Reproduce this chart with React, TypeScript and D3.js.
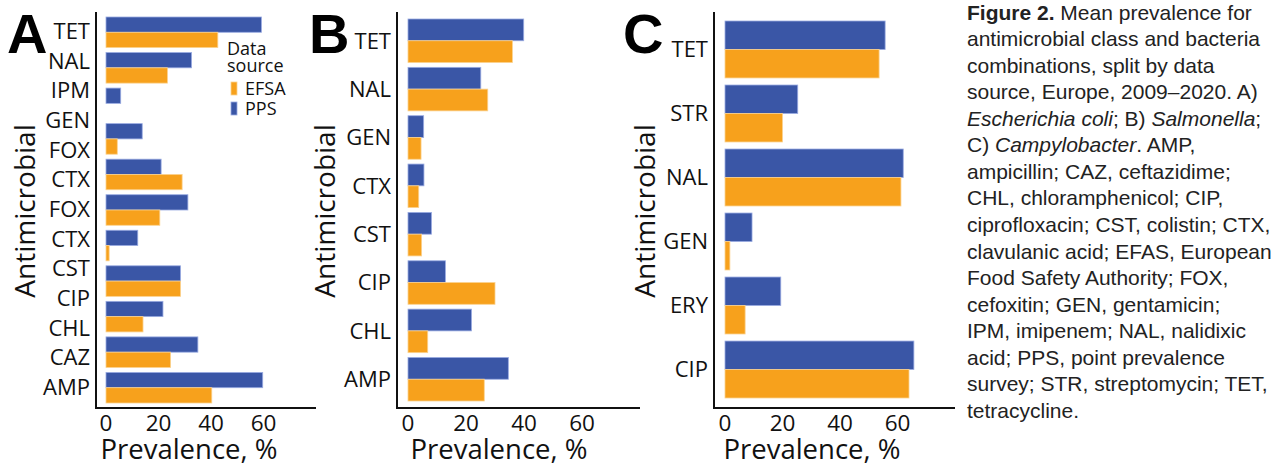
import React from "react";
import * as d3 from "d3";

// E. coli: bars use the 11 classes; the printed axis shows 13 labels
const ecoliBars = ["TET", "NAL", "IPM", "GEN", "FOX", "CTX", "CST", "CIP", "CHL", "CAZ", "AMP"];
const ecoliPps = [59.2, 32.6, 5.6, 13.8, 21, 31.2, 12.1, 28.4, 21.7, 35, 59.7];
const ecoliEfsa = [42.6, 23.4, 0, 4.3, 29, 20.5, 1.2, 28.4, 14.1, 24.6, 40.3];
const ecoliAxisLabels = ["TET", "NAL", "IPM", "GEN", "FOX", "CTX", "FOX", "CTX", "CST", "CIP", "CHL", "CAZ", "AMP"];

const salmonellaBars = ["TET", "NAL", "GEN", "CTX", "CST", "CIP", "CHL", "AMP"];
const salmonellaPps = [39.9, 25.1, 5.4, 5.5, 8.1, 12.9, 21.9, 34.6];
const salmonellaEfsa = [36, 27.5, 4.5, 3.7, 4.7, 30, 6.8, 26.3];

const campyBars = ["TET", "STR", "NAL", "GEN", "ERY", "CIP"];
const campyPps = [55.7, 25.3, 62, 9.4, 19.4, 65.7];
const campyEfsa = [53.6, 20, 61.2, 1.7, 7, 64];

const xTicks = [0, 20, 40, 60];
const sources = ["EFSA", "PPS"];

const colors = { PPS: "#3a56a6", EFSA: "#f7a11c" };
const strokes = { PPS: "#9aabe2", EFSA: "#fbd28e" };

const FONT = "'Open Sans', sans-serif";
const AXIS_TOP = 12;
const AXIS_Y = 408;

const captionLines = [
  [{ t: "Figure 2.", b: true }, { t: " Mean prevalence for" }],
  [{ t: "antimicrobial class and bacteria" }],
  [{ t: "combinations, split by data" }],
  [{ t: "source, Europe, 2009\u20132020. A)" }],
  [{ t: "Escherichia coli", i: true }, { t: "; B) " }, { t: "Salmonella", i: true }, { t: ";" }],
  [{ t: "C) " }, { t: "Campylobacter", i: true }, { t: ". AMP," }],
  [{ t: "ampicillin; CAZ, ceftazidime;" }],
  [{ t: "CHL, chloramphenicol; CIP," }],
  [{ t: "ciprofloxacin; CST, colistin; CTX," }],
  [{ t: "clavulanic acid; EFAS, European" }],
  [{ t: "Food Safety Authority; FOX," }],
  [{ t: "cefoxitin; GEN, gentamicin;" }],
  [{ t: "IPM, imipenem; NAL, nalidixic" }],
  [{ t: "acid; PPS, point prevalence" }],
  [{ t: "survey; STR, streptomycin; TET," }],
  [{ t: "tetracycline." }],
];

function Panel(props) {
  const { letter, letterX, axisX, xRange, band, padding, cats, pps, efsa, labels, labelRange, titleX, yTitleX, legend } = props;
  const x = d3.scaleLinear().domain([0, 80]).range(xRange);
  const y = d3.scaleBand().domain(cats).range(band).paddingInner(padding).paddingOuter(0);
  const sub = d3.scaleBand().domain(["PPS", "EFSA"]).range([0, y.bandwidth()]);
  const ly = labels ? d3.scalePoint().domain(d3.range(labels.length)).range(labelRange) : null;

  return (
    <g>
      <text x={letterX} y={53} fontFamily="'Liberation Sans', Arial, sans-serif" fontWeight="bold" fontSize={56}>{letter}</text>
      {cats.map((c, i) => (
        <g key={c}>
          {[["PPS", pps[i]], ["EFSA", efsa[i]]].map(([s, v]) => v > 0 && (
            <rect key={s} x={x(0)} y={y(c) + sub(s)} width={x(v) - x(0)} height={sub.bandwidth()}
              fill={colors[s]} stroke={strokes[s]} strokeWidth={0.8} />
          ))}
        </g>
      ))}
      <line x1={axisX} x2={axisX} y1={AXIS_TOP} y2={AXIS_Y + 1} stroke="#111" strokeWidth={2} />
      <line x1={axisX - 1} x2={xRange[1]} y1={AXIS_Y} y2={AXIS_Y} stroke="#111" strokeWidth={2} />
      {(labels || cats).map((c, i) => (
        <text key={i} x={axisX - 6} y={labels ? ly(i) : y(c) + y.bandwidth() / 2} dy="0.36em"
          textAnchor="end" fontFamily={FONT} fontSize={22} fill="#111">{c}</text>
      ))}
      {xTicks.map(t => (
        <text key={t} x={x(t)} y={431} textAnchor="middle" fontFamily={FONT} fontSize={22.5} fill="#111">{t}</text>
      ))}
      <text x={titleX} y={459} textAnchor="middle" fontFamily={FONT} fontSize={27.5} fill="#111">Prevalence, %</text>
      <text transform={`translate(${yTitleX},211) rotate(-90)`} textAnchor="middle" fontFamily={FONT} fontSize={28} fill="#111">Antimicrobial</text>
      {legend && (
        <g fontFamily={FONT} fontSize={18} fill="#111">
          <text x={227} y={55}>Data</text>
          <text x={227} y={72}>source</text>
          {sources.map((s, i) => (
            <g key={s}>
              <rect x={231} y={82 + i * 20} width={6} height={13} fill={colors[s]} stroke={strokes[s]} strokeWidth={0.8} />
              <text x={245} y={95 + i * 20}>{s}</text>
            </g>
          ))}
        </g>
      )}
    </g>
  );
}

export default function App() {
  return (
    <svg width={1288} height={468} style={{ position: "absolute", left: 0, top: 0, background: "#fff" }}>
      <Panel letter="A" letterX={7} axisX={96} xRange={[106, 316]} band={[17, 403]} padding={0.14}
        cats={ecoliBars} pps={ecoliPps} efsa={ecoliEfsa} labels={ecoliAxisLabels} labelRange={[31, 387]}
        titleX={189} yTitleX={35} legend />
      <Panel letter="B" letterX={309} axisX={397} xRange={[408, 640]} band={[19, 401]} padding={0.1}
        cats={salmonellaBars} pps={salmonellaPps} efsa={salmonellaEfsa}
        titleX={499} yTitleX={335} />
      <Panel letter="C" letterX={623} axisX={714} xRange={[725, 955]} band={[21, 398]} padding={0.11}
        cats={campyBars} pps={campyPps} efsa={campyEfsa}
        titleX={812} yTitleX={655} />
      <g fontFamily="'Liberation Sans', Arial, sans-serif" fontSize={21} fill="#222">
        {captionLines.map((line, i) => (
          <text key={i} x={967} y={19.5 + i * 26.57}>
            {line.map((seg, j) => (
              <tspan key={j} fontWeight={seg.b ? "bold" : "normal"} fontStyle={seg.i ? "italic" : "normal"}>{seg.t}</tspan>
            ))}
          </text>
        ))}
      </g>
    </svg>
  );
}
